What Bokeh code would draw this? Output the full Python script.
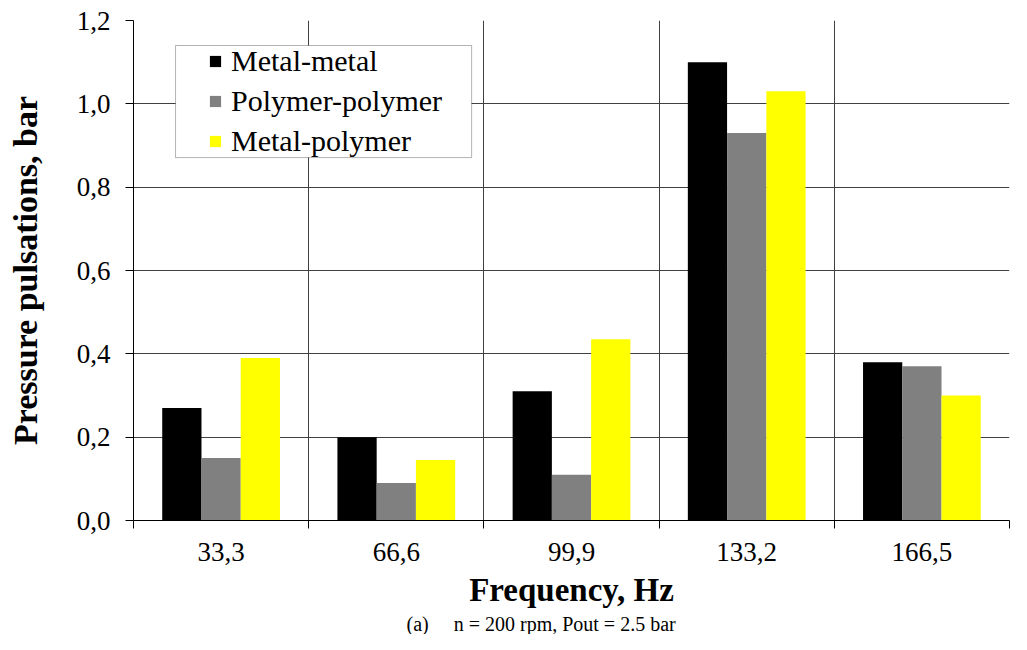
import numpy as np
from bokeh.plotting import figure
from bokeh.models import (FixedTicker, CustomJSTickFormatter, Legend, LegendItem,
                          BoxAnnotation, Title, Range1d)
from bokeh.embed import file_html
from bokeh.resources import INLINE

categories = ["33,3", "66,6", "99,9", "133,2", "166,5"]
metal_metal = [0.27, 0.20, 0.31, 1.10, 0.38]
polymer_polymer = [0.15, 0.09, 0.11, 0.93, 0.37]
metal_polymer = [0.39, 0.145, 0.435, 1.03, 0.30]
y_ticks = [0.0, 0.2, 0.4, 0.6, 0.8, 1.0, 1.2]

FONT = "Liberation Serif"
GRID = "#404040"

n = len(categories)
p = figure(width=1011, height=634, x_range=Range1d(0, n), y_range=Range1d(0, 1.2),
           output_backend="svg", toolbar_location=None,
           min_border_left=133, min_border_top=20, min_border_right=2, min_border_bottom=110)
p.outline_line_color = None
p.background_fill_color = "white"
p.border_fill_color = "white"

# grids
p.xgrid.ticker = FixedTicker(ticks=list(range(n + 1)))
p.ygrid.ticker = FixedTicker(ticks=y_ticks)
for g in (p.xgrid, p.ygrid):
    g.grid_line_color = GRID
    g.grid_line_width = 1

# y axis
ya = p.yaxis[0]
ya.ticker = FixedTicker(ticks=y_ticks)
ya.formatter = CustomJSTickFormatter(code="return tick.toFixed(1).replace('.', ',');")
ya.major_tick_out = 8
ya.major_tick_in = 0
ya.minor_tick_line_color = None
ya.axis_line_color = "black"
ya.major_tick_line_color = "black"
ya.major_label_text_font = FONT
ya.major_label_text_font_size = "27px"
ya.major_label_text_color = "black"
ya.major_label_standoff = 15
ya.axis_label = "Pressure pulsations, bar"
ya.axis_label_text_font = FONT
ya.axis_label_text_font_size = "34px"
ya.axis_label_text_font_style = "bold"
ya.axis_label_text_color = "black"
ya.axis_label_standoff = 30

# x axis
xa = p.xaxis[0]
centers = list(np.arange(n) + 0.5)
xa.ticker = FixedTicker(ticks=centers, minor_ticks=list(range(n + 1)))
xa.formatter = CustomJSTickFormatter(args=dict(labels=categories),
                                     code="return labels[Math.floor(tick)];")
xa.major_tick_out = 8
xa.major_tick_in = 0
xa.major_tick_line_color = None
xa.minor_tick_out = 8
xa.minor_tick_in = 0
xa.minor_tick_line_color = "black"
xa.axis_line_color = "black"
xa.major_label_text_font = FONT
xa.major_label_text_font_size = "27px"
xa.major_label_text_color = "black"
xa.major_label_standoff = 14
xa.axis_label = "Frequency, Hz"
xa.axis_label_text_font = FONT
xa.axis_label_text_font_size = "33px"
xa.axis_label_text_font_style = "bold"
xa.axis_label_text_color = "black"
xa.axis_label_standoff = 8

# legend box (white background with black border)
box = BoxAnnotation(left=0.24, right=1.93, bottom=0.871, top=1.14,
                    fill_color="white", fill_alpha=1.0, line_color="black", line_width=1)
p.add_layout(box)

w = 0.224
xc = np.arange(n) + 0.5
r1 = p.vbar(x=xc - w, top=metal_metal, width=w, fill_color="#000000", line_color=None)
r2 = p.vbar(x=xc, top=polymer_polymer, width=w, fill_color="#808080", line_color=None)
r3 = p.vbar(x=xc + w, top=metal_polymer, width=w, fill_color="#FFFF00", line_color=None)

legend = Legend(items=[LegendItem(label="Metal-metal", renderers=[r1]),
                       LegendItem(label="Polymer-polymer", renderers=[r2]),
                       LegendItem(label="Metal-polymer", renderers=[r3])],
                location=(75, 362), padding=5, spacing=6, label_height=30,
                glyph_height=14, glyph_width=14, label_standoff=9,
                label_text_font=FONT, label_text_font_size="30px",
                label_text_color="black",
                border_line_color=None, background_fill_alpha=0.0)
p.add_layout(legend)

cap = Title(text="(a)\u00a0\u00a0\u00a0\u00a0 n = 200 rpm, Pout = 2.5 bar",
            text_font=FONT, text_font_size="20px", text_font_style="normal",
            text_color="black", align="left", offset=273, standoff=0)
p.add_layout(cap, "below")

open("out.html", "w").write(file_html(p, INLINE))
